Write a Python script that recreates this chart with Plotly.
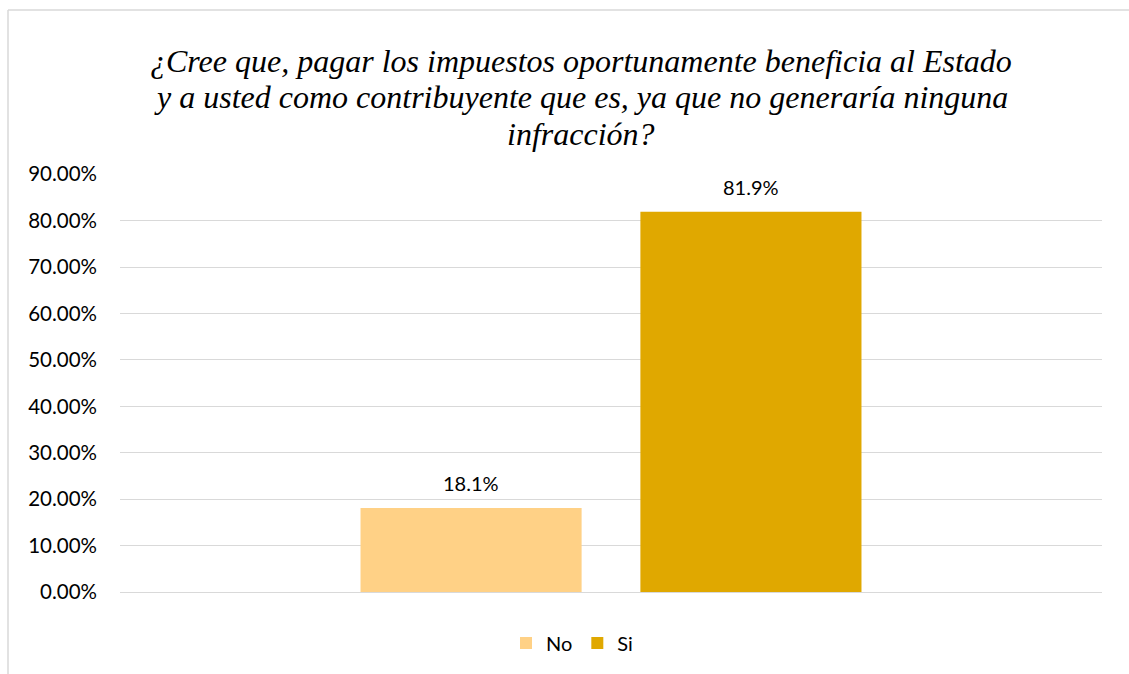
import plotly.graph_objects as go

# Survey answers and their shares
categories = ["No", "Si"]
shares = [0.181, 0.819]
bar_colors = ["#FFD186", "#E0A800"]
title_lines = [
    "¿Cree que, pagar los impuestos oportunamente beneficia al Estado",
    "y a usted como contribuyente que es, ya que no generaría ninguna",
    "infracción?",
]
y_ticks = [i / 10 for i in range(10)]

W, H = 1129, 674
ML, MR, MT, MB = 120, 27, 174, 82
plot_w = W - ML - MR
plot_h = H - MT - MB

SERIF = "Times New Roman, Liberation Serif, Tinos, serif"
SANS = "Lato"


def px_to_paper_x(px):
    return (px - ML) / plot_w


def px_to_paper_y(py):
    return (H - MB - py) / plot_h


fig = go.Figure()
for name, val, col in zip(categories, shares, bar_colors):
    fig.add_trace(go.Bar(
        x=[""], y=[val], name=name,
        marker=dict(color=col, line=dict(width=0)),
        offsetgroup=name,
    ))

# value labels above each bar, placed from the same values
offsets = [-0.5, 0.5]
for name, val, off in zip(categories, shares, offsets):
    fig.add_annotation(
        x=0, y=val, xref="x", yref="y",
        text=f"{val * 100:.1f}%", showarrow=False,
        xshift=off * 280, yshift=25, yanchor="middle",
        font=dict(family=SANS, size=20, color="#000000"),
    )

# chart title: italic serif, one annotation per line for tight leading
for i, line in enumerate(title_lines):
    fig.add_annotation(
        x=px_to_paper_x(581), y=px_to_paper_y(61 + 36.5 * i),
        xref="paper", yref="paper",
        xanchor="center", yanchor="middle", showarrow=False,
        text=f"<i>{line}</i>",
        font=dict(family=SERIF, size=32, color="#000000"),
    )

fig.update_layout(
    width=W, height=H,
    margin=dict(l=ML, r=MR, t=MT, b=MB),
    paper_bgcolor="white", plot_bgcolor="white",
    barmode="group", bargap=0.43, bargroupgap=0.21,
    showlegend=True,
    legend=dict(
        orientation="h", x=px_to_paper_x(572), xanchor="center",
        y=px_to_paper_y(643), yanchor="middle",
        font=dict(family=SANS, size=20, color="#000000"),
        itemwidth=30, traceorder="normal",
    ),
    yaxis=dict(
        range=[0, 0.9005], tickvals=y_ticks + [0.9], tickformat=".2%",
        showgrid=True, gridcolor="#D9D9D9", gridwidth=1.3,
        zeroline=False, showline=False,
        tickfont=dict(family=SANS, size=20.5, color="#000000"),
        ticklabelstandoff=22,
    ),
    xaxis=dict(showticklabels=False, showgrid=False, zeroline=False,
               showline=True, linecolor="#D9D9D9", linewidth=1.3),
    shapes=[
        dict(type="line", xref="paper", yref="paper",
             x0=px_to_paper_x(8), x1=px_to_paper_x(8),
             y0=px_to_paper_y(10), y1=px_to_paper_y(H + 5),
             line=dict(color="#D9D9D9", width=1.5)),
        dict(type="line", xref="paper", yref="paper",
             x0=px_to_paper_x(8), x1=px_to_paper_x(W + 5),
             y0=px_to_paper_y(10), y1=px_to_paper_y(10),
             line=dict(color="#D9D9D9", width=1.5)),
    ],
)

fig.write_html("out.html")
